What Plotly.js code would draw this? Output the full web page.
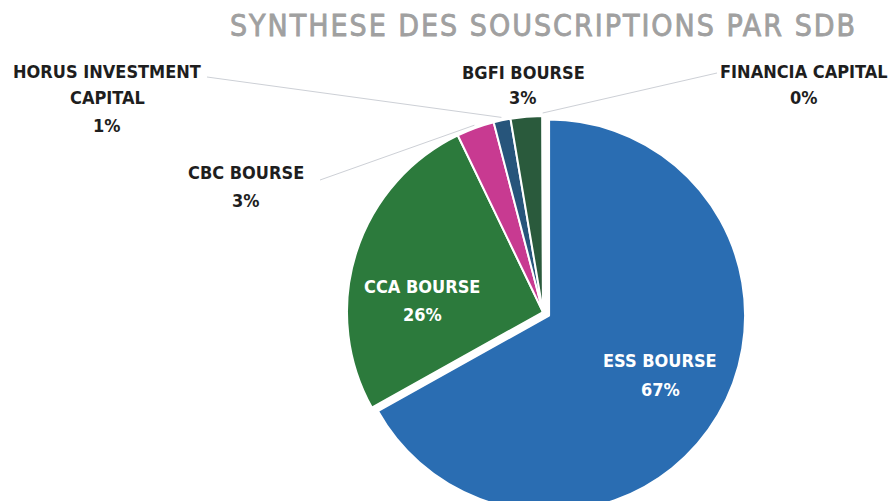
<!DOCTYPE html>
<html><head><meta charset="utf-8">
<script src="https://cdn.plot.ly/plotly-3.0.1.min.js"></script>
<style>
html,body{margin:0;padding:0;background:#fff;overflow:hidden;}
#wrap{width:894px;height:501px;overflow:hidden;position:relative;}
#chart{width:894px;height:640px;}
.gtitle{letter-spacing:2px;stroke:#a0a0a0;stroke-width:0.8px;}
</style></head><body>
<div id="wrap"><div id="chart"></div></div>
<script>
// ---- data ----
const categories = ["ESS BOURSE", "CCA BOURSE", "CBC BOURSE", "HORUS INVESTMENT CAPITAL", "BGFI BOURSE", "FINANCIA CAPITAL"];
const shares = [66.9, 25.95, 3.1, 1.4, 2.6, 0.05];
const sliceColors = ["#2a6db2", "#2c7a3c", "#c83a91", "#27557b", "#2a5a3c", "#e3892f"];
const pullOut = [0.036, 0, 0, 0, 0, 0];
const chartTitle = "SYNTHESE DES SOUSCRIPTIONS PAR SDB";

// ---- layout geometry (pixels) ----
const W = 894, H = 640;
const cx = 543, cy = 312, r = 196;
const maxPull = Math.max(...pullOut);
const half = r * (1 + maxPull);
const px = x => x / W;
const py = y => 1 - y / H;

const total = shares.reduce((a, b) => a + b, 0);
const pctText = shares.map(v => Math.round(v / total * 100) + '%');

// label placement: slice index, centre x, line centres y, colour, words in first line, leader start
const labelLayout = [
  {i: 0, x: 660, ys: [360, 389], color: '#ffffff'},
  {i: 1, x: 422, ys: [286, 314], color: '#ffffff'},
  {i: 2, x: 246, ys: [173, 200], color: '#1e1e1e', lead: [320, 180]},
  {i: 3, x: 107, ys: [71, 98, 125], color: '#1e1e1e', firstWords: 2, lead: [207, 77]},
  {i: 4, x: 523, ys: [72, 98], color: '#1e1e1e'},
  {i: 5, x: 804, ys: [71, 97], color: '#1e1e1e', lead: [717, 73]}
];

function edgePoint(i, extra) {
  let before = 0;
  for (let k = 0; k < i; k++) before += shares[k];
  const mid = (before + shares[i] / 2) / total;
  const th = 2 * Math.PI * mid;
  return [cx + (r + extra) * Math.sin(th), cy - (r + extra) * Math.cos(th)];
}

const annotations = [];
const shapes = [];
labelLayout.forEach(L => {
  const name = categories[L.i];
  let lines;
  if (L.firstWords) {
    const w = name.split(' ');
    lines = [w.slice(0, L.firstWords).join(' '), w.slice(L.firstWords).join(' ')];
  } else {
    lines = [name];
  }
  lines.push(pctText[L.i]);
  lines.forEach((t, k) => {
    annotations.push({
      text: t, x: px(L.x), y: py(L.ys[k]), xref: 'paper', yref: 'paper',
      xanchor: 'center', yanchor: 'middle', showarrow: false,
      font: {family: 'DejaVu Sans Condensed, DejaVu Sans, sans-serif', size: 18, weight: 'bold', color: L.color}
    });
  });
  if (L.lead) {
    const e = edgePoint(L.i, 3);
    shapes.push({
      type: 'line', xref: 'paper', yref: 'paper',
      x0: px(L.lead[0]), y0: py(L.lead[1]), x1: px(e[0]), y1: py(e[1]),
      line: {color: '#cdd0d6', width: 1}
    });
  }
});

const trace = {
  type: 'pie',
  labels: categories,
  values: shares,
  sort: false,
  direction: 'clockwise',
  rotation: 0,
  pull: pullOut,
  marker: {colors: sliceColors, line: {color: '#ffffff', width: 2}},
  textinfo: 'none',
  hoverinfo: 'label+percent',
  showlegend: false,
  domain: {
    x: [px(cx - half), px(cx + half)],
    y: [py(cy + half), py(cy - half)]
  }
};

const layout = {
  width: W, height: H,
  margin: {l: 0, r: 0, t: 0, b: 0},
  paper_bgcolor: '#ffffff',
  showlegend: false,
  title: {
    text: chartTitle,
    font: {family: 'DejaVu Sans Condensed, DejaVu Sans, sans-serif', size: 30, color: '#a0a0a0'},
    x: px(543.5), xanchor: 'center', xref: 'paper',
    y: py(25), yanchor: 'middle', yref: 'paper'
  },
  annotations: annotations,
  shapes: shapes
};

Plotly.newPlot('chart', [trace], layout, {displayModeBar: false, staticPlot: true});
</script>
</body></html>
